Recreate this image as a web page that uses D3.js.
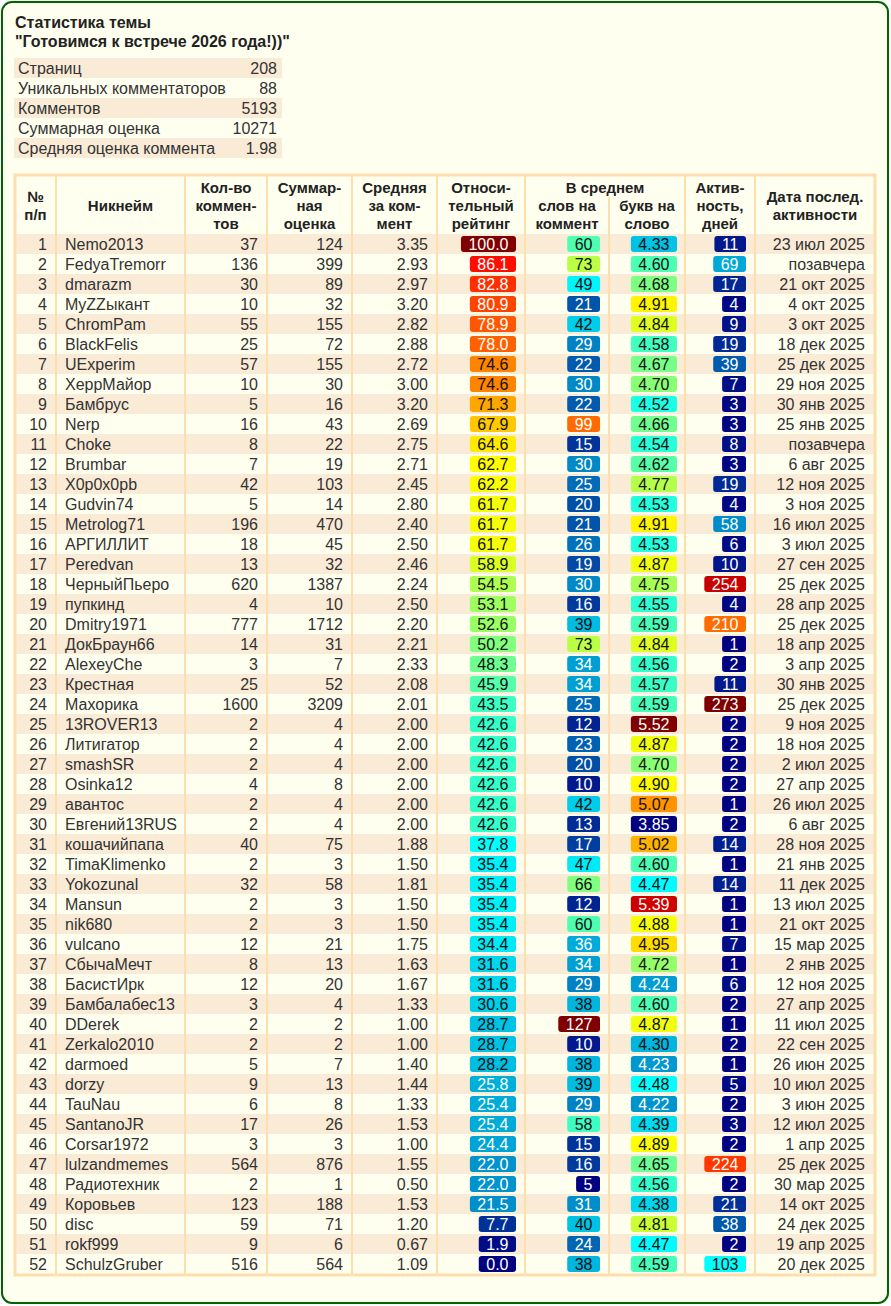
<!DOCTYPE html>
<html>
<head>
<meta charset="utf-8">
<script src="https://cdn.jsdelivr.net/npm/d3@7"></script>
<style>
  body { margin: 0; background: #fff; }
  text { font-family: "Liberation Sans", Arial, sans-serif; fill: #333; }
  .hdr { font-weight: bold; font-size: 15px; text-anchor: middle; fill: #222; }
  .title { font-weight: bold; font-size: 16px; fill: #222; }
  .cell { font-size: 16px; }
</style>
</head>
<body>
<svg id="chart"></svg>
<script>
// Topic summary
const summaryLabels = ['Страниц', 'Уникальных комментаторов', 'Комментов', 'Суммарная оценка', 'Средняя оценка коммента'];
const summaryValues = ['208', '88', '5193', '10271', '1.98'];

// Table columns
const nums = d3.range(1, 53);
const names = ['Nemo2013', 'FedyaTremorr', 'dmarazm', 'MyZZыкант', 'ChromPam', 'BlackFelis', 'UExperim', 'ХеррМайор', 'Бамбрус', 'Nerp',
  'Choke', 'Brumbar', 'X0p0x0pb', 'Gudvin74', 'Metrolog71', 'АРГИЛЛИТ', 'Peredvan', 'ЧерныйПьеро', 'пупкинд', 'Dmitry1971',
  'ДокБраун66', 'AlexeyChe', 'Крестная', 'Махорика', '13ROVER13', 'Литигатор', 'smashSR', 'Osinka12', 'авантос', 'Евгений13RUS',
  'кошачийпапа', 'TimaKlimenko', 'Yokozunal', 'Mansun', 'nik680', 'vulcano', 'СбычаМечт', 'БасистИрк', 'Бамбалабес13', 'DDerek',
  'Zerkalo2010', 'darmoed', 'dorzy', 'TauNau', 'SantanoJR', 'Corsar1972', 'lulzandmemes', 'Радиотехник', 'Коровьев', 'disc',
  'rokf999', 'SchulzGruber'];
const comments = [37, 136, 30, 10, 55, 25, 57, 10, 5, 16, 8, 7, 42, 5, 196, 18, 13, 620, 4, 777,
  14, 3, 25, 1600, 2, 2, 2, 4, 2, 2, 40, 2, 32, 2, 2, 12, 8, 12, 3, 2,
  2, 5, 9, 6, 17, 3, 564, 2, 123, 59, 9, 516];
const scores = [124, 399, 89, 32, 155, 72, 155, 30, 16, 43, 22, 19, 103, 14, 470, 45, 32, 1387, 10, 1712,
  31, 7, 52, 3209, 4, 4, 4, 8, 4, 4, 75, 3, 58, 3, 3, 21, 13, 20, 4, 2,
  2, 7, 13, 8, 26, 3, 876, 1, 188, 71, 6, 564];
const avgScores = [3.35, 2.93, 2.97, 3.20, 2.82, 2.88, 2.72, 3.00, 3.20, 2.69, 2.75, 2.71, 2.45, 2.80, 2.40, 2.50, 2.46, 2.24, 2.50, 2.20,
  2.21, 2.33, 2.08, 2.01, 2.00, 2.00, 2.00, 2.00, 2.00, 2.00, 1.88, 1.50, 1.81, 1.50, 1.50, 1.75, 1.63, 1.67, 1.33, 1.00,
  1.00, 1.40, 1.44, 1.33, 1.53, 1.00, 1.55, 0.50, 1.53, 1.20, 0.67, 1.09];
const ratings = [100.0, 86.1, 82.8, 80.9, 78.9, 78.0, 74.6, 74.6, 71.3, 67.9, 64.6, 62.7, 62.2, 61.7, 61.7, 61.7, 58.9, 54.5, 53.1, 52.6,
  50.2, 48.3, 45.9, 43.5, 42.6, 42.6, 42.6, 42.6, 42.6, 42.6, 37.8, 35.4, 35.4, 35.4, 35.4, 34.4, 31.6, 31.6, 30.6, 28.7,
  28.7, 28.2, 25.8, 25.4, 25.4, 24.4, 22.0, 22.0, 21.5, 7.7, 1.9, 0.0];
const wordsPerComment = [60, 73, 49, 21, 42, 29, 22, 30, 22, 99, 15, 30, 25, 20, 21, 26, 19, 30, 16, 39,
  73, 34, 34, 25, 12, 23, 20, 10, 42, 13, 17, 47, 66, 12, 60, 36, 34, 29, 38, 127,
  10, 38, 39, 29, 58, 15, 16, 5, 31, 40, 24, 38];
const lettersPerWord = [4.33, 4.60, 4.68, 4.91, 4.84, 4.58, 4.67, 4.70, 4.52, 4.66, 4.54, 4.62, 4.77, 4.53, 4.91, 4.53, 4.87, 4.75, 4.55, 4.59,
  4.84, 4.56, 4.57, 4.59, 5.52, 4.87, 4.70, 4.90, 5.07, 3.85, 5.02, 4.60, 4.47, 5.39, 4.88, 4.95, 4.72, 4.24, 4.60, 4.87,
  4.30, 4.23, 4.48, 4.22, 4.39, 4.89, 4.65, 4.56, 4.38, 4.81, 4.47, 4.59];
const activeDays = [11, 69, 17, 4, 9, 19, 39, 7, 3, 3, 8, 3, 19, 4, 58, 6, 10, 254, 4, 210,
  1, 2, 11, 273, 2, 2, 2, 2, 1, 2, 14, 1, 14, 1, 1, 7, 1, 6, 2, 1,
  2, 1, 5, 2, 3, 2, 224, 2, 21, 38, 2, 103];
const lastDates = ['23 июл 2025', 'позавчера', '21 окт 2025', '4 окт 2025', '3 окт 2025', '18 дек 2025', '25 дек 2025', '29 ноя 2025', '30 янв 2025', '25 янв 2025',
  'позавчера', '6 авг 2025', '12 ноя 2025', '3 ноя 2025', '16 июл 2025', '3 июл 2025', '27 сен 2025', '25 дек 2025', '28 апр 2025', '25 дек 2025',
  '18 апр 2025', '3 апр 2025', '30 янв 2025', '25 дек 2025', '9 ноя 2025', '18 ноя 2025', '2 июл 2025', '27 апр 2025', '26 июл 2025', '6 авг 2025',
  '28 ноя 2025', '21 янв 2025', '11 дек 2025', '13 июл 2025', '21 окт 2025', '15 мар 2025', '2 янв 2025', '12 ноя 2025', '27 апр 2025', '11 июл 2025',
  '22 сен 2025', '26 июн 2025', '10 июл 2025', '3 июн 2025', '12 июл 2025', '1 апр 2025', '25 дек 2025', '30 мар 2025', '14 окт 2025', '24 дек 2025',
  '19 апр 2025', '20 дек 2025'];

const W = 891, H = 1306;
const svg = d3.select('#chart').attr('width', W).attr('height', H);

// Frame
svg.append('rect')
    .attr('x', 2).attr('y', 2).attr('width', W - 5).attr('height', H - 5)
    .attr('rx', 10)
    .attr('fill', '#fffff0')
    .attr('stroke', '#006400')
    .attr('stroke-width', 2);

// Title
svg.append('text').attr('class', 'title')
    .attr('x', 15).attr('y', 28).text('Статистика темы');
svg.append('text').attr('class', 'title')
    .attr('x', 15).attr('y', 47).text('"Готовимся к встрече 2026 года!))"');

// Summary block
const ySum = d3.scaleBand().domain(summaryLabels).range([58, 158]);
const sumG = svg.append('g');
sumG.selectAll('rect')
    .data(summaryLabels.filter((d, i) => i % 2 === 0))
  .join('rect')
    .attr('x', 14).attr('width', 268)
    .attr('y', d => ySum(d)).attr('height', ySum.bandwidth())
    .attr('fill', '#faebd7');
sumG.selectAll('.slabel')
    .data(summaryLabels)
  .join('text')
    .attr('class', 'cell slabel')
    .attr('x', 18).attr('y', d => ySum(d) + 16)
    .text(d => d);
sumG.selectAll('.svalue')
    .data(summaryValues)
  .join('text')
    .attr('class', 'cell svalue')
    .attr('x', 277).attr('y', (d, i) => ySum(summaryLabels[i]) + 16)
    .style('text-anchor', 'end')
    .text(d => d);

// Main table
const tLeft = 15, tRight = 875, tTop = 175, hdrBottom = 234;
const y = d3.scaleBand().domain(nums).range([hdrBottom, hdrBottom + 20 * nums.length]);
const tBottom = y.range()[1];

const table = svg.append('g');

// striped rows
table.selectAll('.stripe')
    .data(nums.filter(n => n % 2 === 1))
  .join('rect')
    .attr('class', 'stripe')
    .attr('x', tLeft).attr('width', tRight - tLeft)
    .attr('y', d => y(d)).attr('height', y.bandwidth())
    .attr('fill', '#faebd7');

// column dividers
const dividers = [{x: 56, y0: tTop}, {x: 185, y0: tTop}, {x: 267, y0: tTop}, {x: 352, y0: tTop},
  {x: 437, y0: tTop}, {x: 525, y0: tTop}, {x: 609, y0: 197}, {x: 685, y0: tTop}, {x: 755, y0: tTop}];
table.selectAll('.div')
    .data(dividers)
  .join('line')
    .attr('class', 'div')
    .attr('x1', d => d.x).attr('x2', d => d.x)
    .attr('y1', d => d.y0).attr('y2', tBottom)
    .attr('stroke', '#ffdead').attr('stroke-width', 2);

table.append('rect')
    .attr('x', tLeft).attr('y', tTop)
    .attr('width', tRight - tLeft).attr('height', tBottom - tTop + 1)
    .attr('fill', 'none')
    .attr('stroke', '#ffdead').attr('stroke-width', 3);

// header texts
const headers = [
  {x: 35.5, lines: ['№', 'п/п']},
  {x: 120.5, lines: ['Никнейм']},
  {x: 226, lines: ['Кол-во', 'коммен-', 'тов']},
  {x: 309.5, lines: ['Суммар-', 'ная', 'оценка']},
  {x: 394.5, lines: ['Средняя', 'за ком-', 'мент']},
  {x: 481, lines: ['Относи-', 'тельный', 'рейтинг']},
  {x: 605, lines: ['В среднем', '', '']},
  {x: 567, lines: ['', 'слов на', 'коммент']},
  {x: 647, lines: ['', 'букв на', 'слово']},
  {x: 720, lines: ['Актив-', 'ность,', 'дней']},
  {x: 815, lines: ['Дата послед.', 'активности']}
];
const lineH = 18;
headers.forEach(h => {
  const n = h.lines.length;
  const first = 211 - (n - 1) * lineH / 2;
  h.lines.forEach((t, i) => {
    if (!t) return;
    table.append('text').attr('class', 'hdr')
        .attr('x', h.x).attr('y', first + i * lineH)
        .text(t);
  });
});

// plain cells
const plainCols = [
  {values: nums, x: 47, anchor: 'end'},
  {values: names, x: 65, anchor: 'start'},
  {values: comments, x: 258, anchor: 'end'},
  {values: scores, x: 343, anchor: 'end'},
  {values: avgScores.map(d => d.toFixed(2)), x: 428, anchor: 'end'},
  {values: lastDates, x: 865, anchor: 'end'}
];
plainCols.forEach(col => {
  table.append('g').selectAll('text')
      .data(col.values)
    .join('text')
      .attr('class', 'cell')
      .attr('x', col.x)
      .attr('y', (d, i) => y(nums[i]) + 16)
      .style('text-anchor', col.anchor)
      .text(d => d);
});

// colour map: navy -> blue -> cyan -> green -> yellow -> orange -> red -> dark red
const stops = [0, 0.125, 0.25, 0.375, 0.5, 0.625, 0.75, 0.875, 1];
const stopColors = ['#000080', '#0050a8', '#00a8d8', '#00ffff', '#80ff80', '#ffff00', '#ff8000', '#ff0000', '#800000'];
const cmap = d3.scaleLinear().domain(stops).range(stopColors).interpolate(d3.interpolateRgb).clamp(true);

const badgeCols = [
  {values: ratings, fmt: d => d.toFixed(1), right: 516},
  {values: wordsPerComment, fmt: d => String(d), right: 600},
  {values: lettersPerWord, fmt: d => d.toFixed(2), right: 677},
  {values: activeDays, fmt: d => String(d), right: 746}
];
badgeCols.forEach(col => {
  const norm = d3.scaleLinear().domain(d3.extent(col.values)).range([0, 1]);
  const g = table.append('g').selectAll('g')
      .data(col.values)
    .join('g')
      .attr('transform', (d, i) => `translate(0,${y(nums[i])})`);
  const rects = g.append('rect')
      .attr('y', 2).attr('height', 16).attr('rx', 3)
      .attr('fill', d => cmap(norm(d)));
  const texts = g.append('text')
      .attr('class', 'cell')
      .attr('y', 16)
      .style('text-anchor', 'middle')
      .style('fill', d => { const t = norm(d); return (t < 0.26 || t > 0.76) ? '#fff' : '#111'; })
      .text(col.fmt);
  texts.each(function(d, i) {
    const w = this.getComputedTextLength() + 15;
    d3.select(rects.nodes()[i]).attr('x', col.right - w).attr('width', w);
    d3.select(this).attr('x', col.right - w / 2);
  });
});
</script>
</body>
</html>
